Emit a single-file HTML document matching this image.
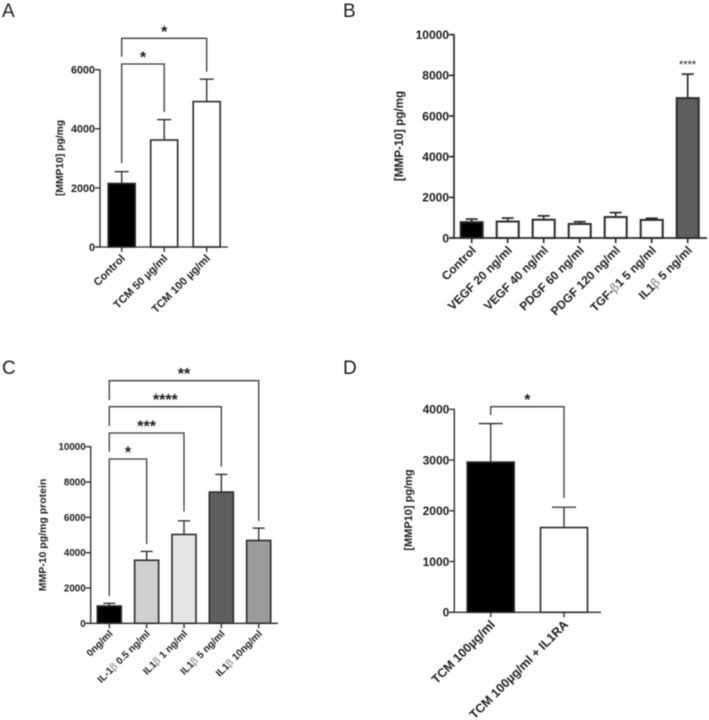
<!DOCTYPE html>
<html lang="en">
<head>
<meta charset="utf-8">
<title>MMP-10 panels</title>
<style>
html,body{margin:0;padding:0;background:#fff;}
svg{display:block;filter:blur(0.45px);}
text{font-family:"Liberation Sans",sans-serif;fill:#1c1c1c;}
</style>
</head>
<body>
<svg id="figure" width="709" height="720" viewBox="0 0 709 720" xmlns="http://www.w3.org/2000/svg">
  <text x="2" y="17" font-size="19">A</text>
  <text x="343" y="17" font-size="19">B</text>
  <text x="2" y="374" font-size="19">C</text>
  <text x="343" y="374" font-size="19">D</text>
</svg>
<script>
// Panel A data
const aCategories = ['Control', 'TCM 50 µg/ml', 'TCM 100 µg/ml'];
const aValues = [2150, 3620, 4920];
const aErrorTops = [2550, 4310, 5680];
const aTicks = [0, 2000, 4000, 6000];
const aFills = ['#000', '#fff', '#fff'];
const aBrackets = [
  {from: 0, to: 1, top: 6193, left: 2843, right: 4569, label: '*'},
  {from: 0, to: 2, top: 7063, left: 6440, right: 5932, label: '*'}
];

// Panel B data
const bCategories = ['Control', 'VEGF 20 ng/ml', 'VEGF 40 ng/ml', 'PDGF 60 ng/ml', 'PDGF 120 ng/ml', 'TGF-β1 5 ng/ml', 'IL1β 5 ng/ml'];
const bValues = [780, 810, 900, 690, 1030, 890, 6880];
const bErrorTops = [930, 980, 1090, 800, 1250, 970, 8060];
const bTicks = [0, 2000, 4000, 6000, 8000, 10000];
const bFills = ['#000', '#fff', '#fff', '#fff', '#fff', '#fff', '#5e5e5e'];
const bBrackets = [];

// Panel C data
const cCategories = ['0ng/ml', 'IL-1β 0.5 ng/ml', 'IL1β 1 ng/ml', 'IL1β 5 ng/ml', 'IL1β 10ng/ml'];
const cValues = [980, 3570, 5030, 7430, 4690];
const cErrorTops = [1130, 4070, 5800, 8430, 5390];
const cTicks = [0, 2000, 4000, 6000, 8000, 10000];
const cFills = ['#000', '#d0d0d0', '#e6e6e6', '#5f5f5f', '#9b9b9b'];
const cBrackets = [
  {from: 0, to: 1, top: 9303, left: 1546, right: 4490, label: '*'},
  {from: 0, to: 2, top: 10776, left: 9717, right: 6319, label: '***'},
  {from: 0, to: 3, top: 12265, left: 11172, right: 8868, label: '****'},
  {from: 0, to: 4, top: 13737, left: 12645, right: 5793, label: '**'}
];

// Panel D data
const dCategories = ['TCM 100µg/ml', 'TCM 100µg/ml + IL1RA'];
const dValues = [2960, 1670];
const dErrorTops = [3720, 2070];
const dTicks = [0, 1000, 2000, 3000, 4000];
const dFills = ['#000', '#fff'];
const dBrackets = [
  {from: 0, to: 1, top: 4051, left: 3888, right: 2252, label: '*'}
];

const NS = 'http://www.w3.org/2000/svg';
const INK = '#2b2b2b';
const fig = document.getElementById('figure');

function make(parent, tag, attrs) {
  const el = document.createElementNS(NS, tag);
  for (const k in attrs) el.setAttribute(k, attrs[k]);
  parent.appendChild(el);
  return el;
}

function line(parent, x1, y1, x2, y2, w, name) {
  const el = make(parent, 'line', {x1, y1, x2, y2, stroke: INK, 'stroke-width': w});
  
  
  return el;
}

function drawPanel(p) {
  const g = make(fig, 'g', {});
  
  

  const yScale = v => p.y0 - (v - 0) * (p.y0 - p.yMaxPx) / p.yMax;
  const xScale = i => p.x1 + i * p.step;

  // bars and error bars
  p.values.forEach((v, i) => {
    const cx = xScale(i);
    const bar = make(g, 'rect', {
      x: cx - p.barW / 2, y: yScale(v), width: p.barW, height: p.y0 - yScale(v),
      fill: p.fills[i], stroke: INK, 'stroke-width': p.stroke
    });
    
    
    line(g, cx, yScale(v), cx, yScale(p.errors[i]), p.stroke * 0.85, 'error-stem-' + p.id + '-' + i);
    line(g, cx - p.cap, yScale(p.errors[i]), cx + p.cap, yScale(p.errors[i]), p.stroke * 0.85, 'error-cap-' + p.id + '-' + i);
  });

  // axes
  line(g, p.x0, p.yMaxPx - 0.5, p.x0, p.y0 + 0.5, p.stroke * 0.85, 'y-axis-' + p.id);
  line(g, p.x0 - 5, p.y0, p.xEnd, p.y0, p.stroke * 0.85, 'x-axis-' + p.id);

  // y ticks
  p.ticks.forEach(t => {
    line(g, p.x0 - 5, yScale(t), p.x0, yScale(t), p.stroke * 0.85, 'y-tick-' + p.id + '-' + t);
    const lab = make(g, 'text', {
      x: p.x0 - 5, y: yScale(t) + p.tickFont * 0.36, 'text-anchor': 'end',
      'font-size': p.tickFont, 'font-weight': 'bold'
    });
    
    
    lab.textContent = t;
  });

  // category ticks and labels
  p.categories.forEach((c, i) => {
    const cx = xScale(i);
    line(g, cx, p.y0, cx, p.y0 + 5, p.stroke * 0.85, 'x-tick-' + p.id + '-' + i);
    const ax = cx + p.labelDx, ay = p.y0 + p.labelDy;
    const lab = make(g, 'text', {
      x: ax, y: ay, 'text-anchor': 'end', 'font-size': p.catFont, 'font-weight': 'bold',
      transform: 'rotate(-45 ' + ax + ' ' + ay + ')'
    });
    
    
    c.split(/(β)/).forEach(part => {
      if (!part) return;
      const s = make(lab, 'tspan', {});
      s.textContent = part;
      if (part === 'β') {
        s.setAttribute('font-family', '"DejaVu Serif", "Liberation Serif", serif');
        s.setAttribute('font-weight', 'normal');
        s.setAttribute('style', 'fill:#777');
      }
    });
  });

  // y axis title
  const title = make(g, 'text', {
    x: p.titleX, y: p.titleY, 'text-anchor': 'middle', 'font-size': p.titleFont,
    'font-weight': 'bold', transform: 'rotate(-90 ' + p.titleX + ' ' + p.titleY + ')'
  });
  
  
  title.textContent = p.title;

  // significance brackets
  p.brackets.forEach((b, i) => {
    const xa = xScale(b.from), xb = xScale(b.to), yt = yScale(b.top);
    const path = make(g, 'path', {
      d: 'M' + xa + ' ' + yScale(b.left) + 'V' + yt + 'H' + xb + 'V' + yScale(b.right),
      fill: 'none', stroke: '#3a3a3a', 'stroke-width': 1.3
    });
    
    
    const star = make(g, 'text', {
      x: (xa + xb) / 2, y: yt - 1.5, 'text-anchor': 'middle', 'font-size': 16, 'font-weight': 'bold'
    });
    
    
    star.textContent = b.label;
  });
}

drawPanel({
  id: 'a', categories: aCategories, values: aValues, errors: aErrorTops, ticks: aTicks, fills: aFills, brackets: aBrackets,
  x0: 100, xEnd: 228, y0: 247, yMaxPx: 69.7, yMax: 6000, x1: 121.7, step: 42.5, barW: 27, cap: 7, stroke: 1.6,
  tickFont: 10.8, catFont: 11, labelDx: 4, labelDy: 12, title: '[MMP10] pg/mg', titleX: 63, titleY: 158, titleFont: 10.3
});
drawPanel({
  id: 'b', categories: bCategories, values: bValues, errors: bErrorTops, ticks: bTicks, fills: bFills, brackets: bBrackets,
  x0: 454, xEnd: 707, y0: 238, yMaxPx: 34.7, yMax: 10000, x1: 471.7, step: 36, barW: 22, cap: 6, stroke: 2,
  tickFont: 12, catFont: 12, labelDx: 5, labelDy: 13, title: '[MMP-10] pg/mg', titleX: 403, titleY: 136, titleFont: 11.7
});
drawPanel({
  id: 'c', categories: cCategories, values: cValues, errors: cErrorTops, ticks: cTicks, fills: cFills, brackets: cBrackets,
  x0: 90.7, xEnd: 278, y0: 623.3, yMaxPx: 446.7, yMax: 10000, x1: 109.3, step: 37.35, barW: 24, cap: 6, stroke: 1.6,
  tickFont: 9.8, catFont: 10, labelDx: 4, labelDy: 11, title: 'MMP-10 pg/mg protein', titleX: 46, titleY: 535, titleFont: 10.5
});
drawPanel({
  id: 'd', categories: dCategories, values: dValues, errors: dErrorTops, ticks: dTicks, fills: dFills, brackets: dBrackets,
  x0: 454.3, xEnd: 601, y0: 612.3, yMaxPx: 409.3, yMax: 4000, x1: 490.7, step: 73.3, barW: 47, cap: 12, stroke: 1.6,
  tickFont: 12, catFont: 12.4, labelDx: 5, labelDy: 13, title: '[MMP10] pg/mg', titleX: 412, titleY: 510, titleFont: 11
});

// Panel B annotation above the last bar
const bNote = make(fig, 'text', {x: 687.5, y: 68, 'text-anchor': 'middle', 'font-size': 11});


bNote.textContent = '****';
</script>
</body>
</html>
